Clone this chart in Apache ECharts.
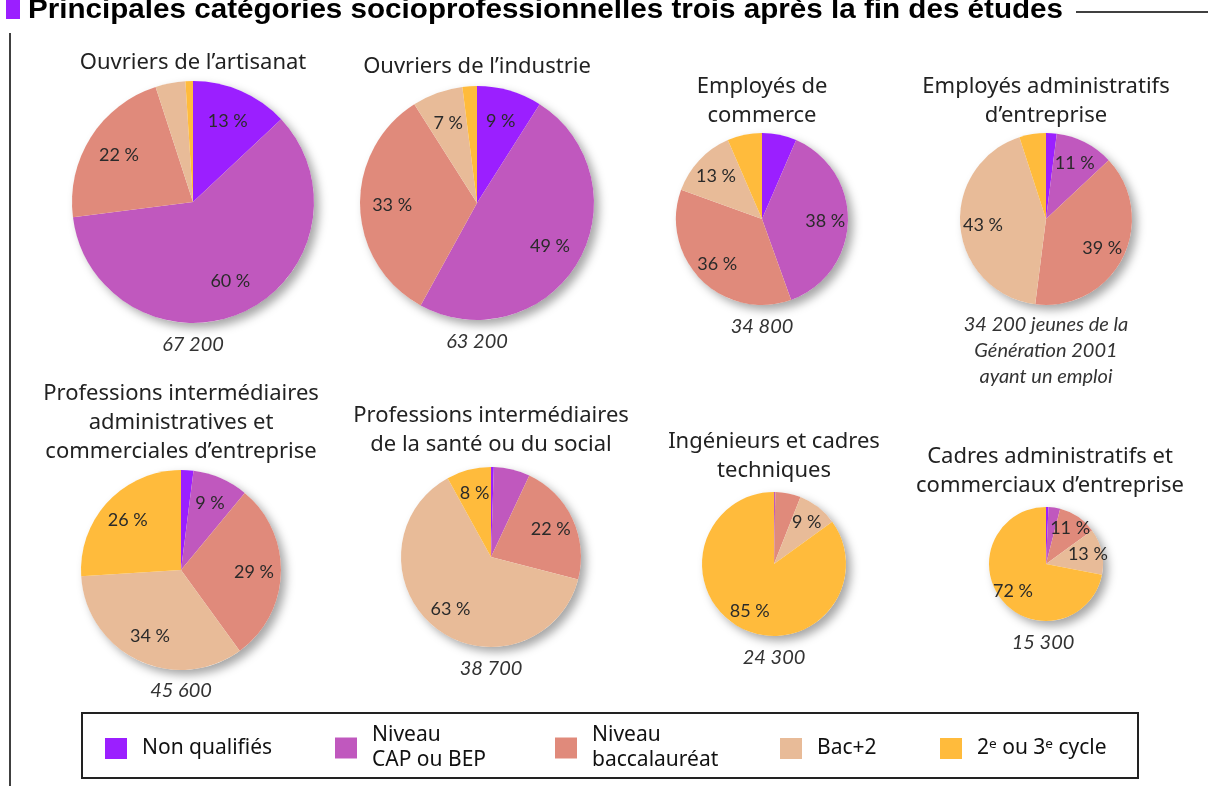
<!DOCTYPE html>
<html>
<head>
<meta charset="utf-8">
<script src="https://cdn.jsdelivr.net/npm/echarts@6/dist/echarts.min.js"></script>
<style>
  html, body { margin: 0; padding: 0; background: #fff; }
  #main { width: 1208px; height: 786px; }
</style>
</head>
<body>
<div id="main"></div>
<script>
// niveaux de diplome (ordre des secteurs, depuis midi, sens horaire)
const levels = ['Non qualifiés', 'Niveau CAP ou BEP', 'Niveau baccalauréat', 'Bac+2', '2ᵉ ou 3ᵉ cycle'];
const levelColors = ['#9b1fff', '#c058be', '#e08a7b', '#e8bb98', '#ffbb3c'];

// parts en % par categorie
const artisanat = [13, 60, 22, 4, 1];
const industrie = [9, 49, 33, 7, 2];
const commerce = [6.5, 38, 36, 13, 6.5];
const administratifs = [2, 11, 39, 43, 5];
const intermAdmin = [2, 9, 29, 34, 26];
const intermSante = [0.5, 6.5, 22, 63, 8];
const ingenieurs = [0, 0.3, 5.7, 9, 85];
const cadres = [0.7, 3.3, 11, 13, 72];

const titles = [
  'Ouvriers de l’artisanat',
  'Ouvriers de l’industrie',
  'Employés de\ncommerce',
  'Employés administratifs\nd’entreprise',
  'Professions intermédiaires\nadministratives et\ncommerciales d’entreprise',
  'Professions intermédiaires\nde la santé ou du social',
  'Ingénieurs et cadres\ntechniques',
  'Cadres administratifs et\ncommerciaux d’entreprise'
];
const totals = [
  '67 200', '63 200', '34 800',
  '34 200 jeunes de la\nGénération 2001\nayant un emploi',
  '45 600', '38 700', '24 300', '15 300'
];

const allData = [artisanat, industrie, commerce, administratifs, intermAdmin, intermSante, ingenieurs, cadres];

// mise en page : centre, rayon, position titre et total
const layout = [
  {c: [193, 202], r: 121, tx: 193, ty: 48, nx: 193, ny: 332},
  {c: [477, 203], r: 117, tx: 477, ty: 52, nx: 477, ny: 329},
  {c: [762, 219], r: 86, tx: 762, ty: 72, nx: 762, ny: 314},
  {c: [1046, 219], r: 86, tx: 1046, ty: 72, nx: 1046, ny: 312},
  {c: [181, 570], r: 100, tx: 181, ty: 379, nx: 181, ny: 678},
  {c: [491, 557], r: 90, tx: 491, ty: 401, nx: 491, ny: 656},
  {c: [774, 564], r: 72, tx: 774, ty: 427, nx: 774, ny: 645},
  {c: [1046, 564], r: 57, tx: 1050, ty: 442, nx: 1043, ny: 630}
];

const textFont = '"Noto Sans", "DejaVu Sans", sans-serif';
const labelFont = 'Lato, "Noto Sans", sans-serif';

let series = [];
let graphics = [];

allData.forEach(function (vals, i) {
  let L = layout[i];
  // ombre portee sous le camembert
  series.push({
    type: 'pie', silent: true, z: 1,
    center: L.c, radius: [0, L.r],
    label: {show: false}, labelLine: {show: false},
    itemStyle: {color: '#ffffff', shadowBlur: 10, shadowOffsetX: 5, shadowOffsetY: 5, shadowColor: 'rgba(0,0,0,0.35)'},
    data: [{value: 1}]
  });
  // secteurs
  series.push({
    type: 'pie', silent: true, z: 2,
    center: L.c, radius: [0, L.r],
    startAngle: 90, clockwise: true,
    label: {show: false}, labelLine: {show: false},
    data: vals.map(function (v, k) {
      return {name: levels[k], value: v, itemStyle: {color: levelColors[k]}};
    })
  });
  // etiquettes (anneau transparent pour eloigner les textes du centre)
  series.push({
    type: 'pie', silent: true, z: 3,
    center: L.c, radius: [L.r * 0.4, L.r],
    startAngle: 90, clockwise: true,
    avoidLabelOverlap: false,
    itemStyle: {color: 'transparent'},
    labelLine: {show: false},
    label: {
      position: 'inside', color: '#2a2a2a',
      fontFamily: labelFont, fontSize: 18,
      formatter: function (p) { return Math.round(p.value) + ' %'; }
    },
    data: vals.map(function (v, k) {
      return {name: levels[k], value: v, label: {show: v >= 7}};
    })
  });

  graphics.push({
    type: 'text', x: L.tx, y: L.ty,
    style: {text: titles[i], textAlign: 'center', fill: '#222', font: '22px ' + textFont, lineHeight: 29}
  });
  graphics.push({
    type: 'text', x: L.nx, y: L.ny,
    style: {text: totals[i], textAlign: 'center', fill: '#333', font: 'italic 20px ' + labelFont, lineHeight: 26}
  });
});

// titre general, resserre pour tenir dans la largeur
const headerText = 'Principales catégories socioprofessionnelles trois après la fin des études';
const headerFont = 'bold 28px "Liberation Sans", sans-serif';
let cv = document.createElement('canvas').getContext('2d');
cv.font = headerFont;
let headerScale = 1035 / cv.measureText(headerText).width;

graphics.push(
  {type: 'rect', shape: {x: 6, y: 0, width: 14, height: 19}, style: {fill: '#9b1fff'}},
  {type: 'text', x: 28, y: 24, scaleX: headerScale,
    style: {text: headerText, font: headerFont, fill: '#000', textVerticalAlign: 'bottom'}},
  {type: 'line', shape: {x1: 1076, y1: 12, x2: 1208, y2: 12}, style: {stroke: '#000', lineWidth: 1.5}},
  {type: 'line', shape: {x1: 10, y1: 33, x2: 10, y2: 786}, style: {stroke: '#000', lineWidth: 1.5}},
  {type: 'rect', shape: {x: 82, y: 713, width: 1056, height: 65}, style: {fill: 'none', stroke: '#222', lineWidth: 2}}
);

// legendes : une par niveau pour placer chaque element
const legendLabels = ['Non qualifiés', 'Niveau\nCAP ou BEP', 'Niveau\nbaccalauréat', 'Bac+2', '2ᵉ ou 3ᵉ cycle'];
const legendX = [100, 330, 550, 775, 935];
let legends = levels.map(function (name, k) {
  let twoLines = legendLabels[k].indexOf('\n') > 0;
  return {
    data: [{name: name, icon: 'rect'}],
    left: legendX[k], top: twoLines ? 718 : 731,
    orient: 'horizontal', selectedMode: false,
    itemWidth: 22, itemHeight: 21,
    formatter: function () { return legendLabels[k]; },
    textStyle: {fontFamily: textFont, fontSize: 21, color: '#111', lineHeight: 25, padding: [0, 0, 0, 10]}
  };
});

let myChart = echarts.init(document.getElementById('main'), null, {renderer: 'canvas'});
myChart.setOption({
  backgroundColor: '#ffffff',
  animation: false,
  legend: legends,
  graphic: graphics,
  series: series
});
</script>
</body>
</html>
